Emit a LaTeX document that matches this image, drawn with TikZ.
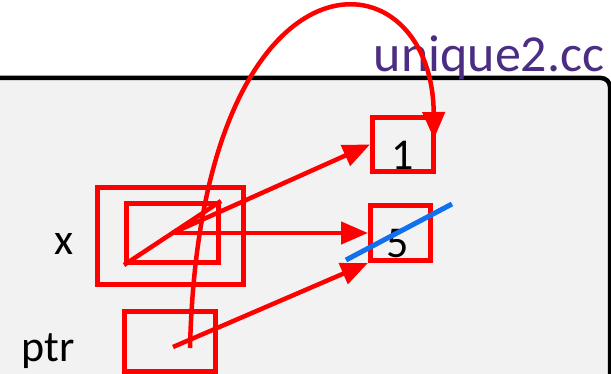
\documentclass[tikz,border=0pt]{standalone}
\usepackage{fontspec}
\setmainfont{Carlito}
\usetikzlibrary{arrows.meta}
\definecolor{panelgray}{RGB}{242,242,242}
\definecolor{filepurple}{RGB}{75,46,131}
\definecolor{crossblue}{RGB}{16,112,240}

\begin{document}
\begin{tikzpicture}[x=1pt, y=-1pt,
		cell/.style={draw=red, line width=5pt, inner sep=0pt},
		ref/.style={draw=red, line width=4.5pt, -{Triangle[length=27pt, width=22pt]}},
		big/.style={font=\fontsize{44}{50}\selectfont}]
			%%%%% START %%%%%
			\clip (0, 0) rectangle (611, 374);
			
			% the source file panel
			\draw[line width=4.5pt, fill=panelgray, rounded corners=9pt] (-20, 78) -- (610, 78) -- (610, 420) -- (-20, 420) -- cycle;
			\node[anchor=base east, text=filepurple, font=\fontsize{52}{60}\selectfont] (filename) at (608, 72) {unique2.cc};
			
			% x and its inner field
			\node[cell, minimum width=146, minimum height=97] (xouter) at (170.5, 236) {};
			\node[cell, minimum width=92, minimum height=59] (xinner) at (172.5, 233) {};
			\node[big, anchor=base] (xlabel) at (64, 255) {x};
			
			% ptr
			\node[cell, minimum width=91, minimum height=60] (ptrbox) at (170, 341.5) {};
			\node[big, anchor=base west] (ptrlabel) at (18, 362) {ptr};
			
			% heap cells
			\node[cell, minimum width=61, minimum height=54] (one) at (403, 144.5) {};
			\node[big, anchor=base] (onelabel) at (403, 170) {1};
			\node[cell, minimum width=60, minimum height=55] (five) at (400.5, 233) {};
			\node[big, anchor=base] (fivelabel) at (398, 258) {5};
			
			\coordinate (ptrval) at (173, 347);
			\coordinate (ptrtail) at (190, 348);
			\coordinate (onehit) at (434, 139);
			
			\draw[draw=red, line width=4.5pt] (xinner.south west) -- (xinner.north east);
			\draw[ref] (xinner.center) -- (one.west);
			\draw[ref] (xinner.center) -- (five.west);
			\draw[ref] (ptrval) -- (five.south west);
			\draw[ref] (ptrtail) .. controls (200, -65) and (432, -55) .. (onehit);
			
			% five is gone
			\draw[crossblue, line width=5pt] (346, 260) -- (452, 204);
			%%%%% END %%%%%
		\end{tikzpicture}
\end{document}
